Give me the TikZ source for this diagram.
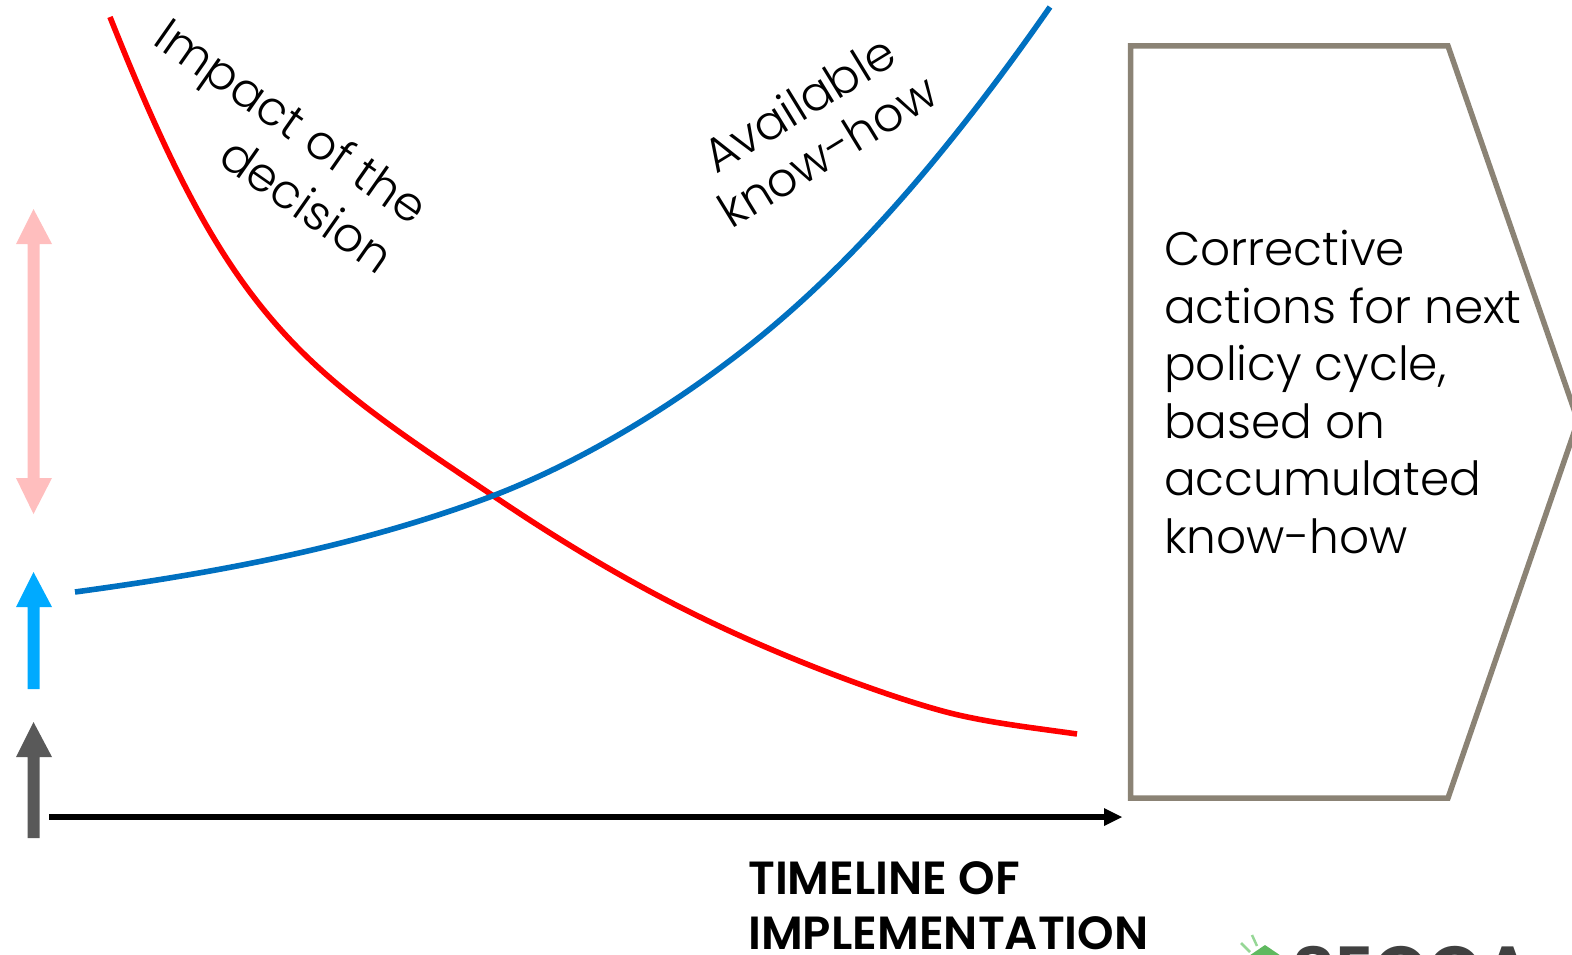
\documentclass[tikz,border=0pt]{standalone}
\usepackage{fontspec}
\setmainfont{Poppins}[UprightFont=* Light,BoldFont=* SemiBold]
\begin{document}
\begin{tikzpicture}[x=1pt,y=-1pt,
  curve/.style={line width=5.6pt,line join=round},
  body/.style={font=\fontsize{47}{57.5}\selectfont,align=left,inner sep=0pt,anchor=north west},
  slanted/.style={font=\fontsize{47.5}{60}\selectfont,inner sep=0pt},
  slantedb/.style={font=\fontsize{47.5}{55}\selectfont,inner sep=0pt},
  axislabel/.style={font=\fontsize{46.5}{55}\selectfont\bfseries,align=left,inner sep=0pt,anchor=north west}]
\definecolor{redc}{RGB}{255,0,0}
\definecolor{bluec}{RGB}{0,112,192}
\definecolor{pinkc}{RGB}{255,190,190}
\definecolor{skyc}{RGB}{0,170,255}
\definecolor{grayc}{RGB}{89,89,89}
\definecolor{boxc}{RGB}{139,131,117}
\definecolor{logoc}{RGB}{64,64,64}
\definecolor{leafc}{RGB}{95,185,95}
\definecolor{rayc}{RGB}{150,215,150}
\useasboundingbox (0,0) rectangle (1572,955);
\clip (0,0) rectangle (1572,955);
% pentagon
\draw[boxc,line width=5.5pt,miter limit=10] (1130.5,46) -- (1448,46) -- (1578,421) -- (1448,798) -- (1130.5,798) -- cycle;
% curves
\draw[redc,curve] (110,17) .. controls (175,180) and (225,275) .. (300,350)
  .. controls (355,405) and (425,450) .. (495,497)
  .. controls (560,541) and (630,583) .. (700,617)
  .. controls (790,661) and (895,699) .. (950,713)
  .. controls (990,723) and (1035,728) .. (1077,734);
\draw[bluec,curve] (75,592) .. controls (200,575) and (350,550) .. (495,495)
  .. controls (570,466) and (650,420) .. (720,368)
  .. controls (800,309) and (905,215) .. (1050,7);
% left arrows
\fill[pinkc] (33.5,209) -- (52,244) -- (39.5,244) -- (39.5,478) -- (52,478) -- (33.5,514) -- (16,478) -- (27.5,478) -- (27.5,244) -- (16,244) -- cycle;
\fill[skyc] (33.5,572) -- (52,607) -- (39.5,607) -- (39.5,689) -- (27.5,689) -- (27.5,607) -- (16,607) -- cycle;
\fill[grayc] (33.5,722) -- (52,757) -- (39.5,757) -- (39.5,838) -- (27.5,838) -- (27.5,757) -- (16,757) -- cycle;
% timeline
\coordinate (tstart) at (49,817);
\coordinate (tend) at (1104,817);
\draw[black,line width=6pt] (tstart) -- (tend);
\fill[black] (1122,817) -- (1104,808) -- (1104,826) -- cycle;
% labels
\node[slanted,align=right,rotate=-35] (impact) at (275,145) {Impact of the\\decision};
\node[slantedb,align=center,rotate=31.5] (knowhow) at (813,127) {Available\\know-how};
\node[body] (corr) at (1164,230) {Corrective\\actions for next\\policy cycle,\\based on\\accumulated\\know-how};
\node[axislabel] (tl) at (748,861) {TIMELINE OF\\IMPLEMENTATION};
% logo, cut off by the lower edge
\fill[leafc] (1265,945) -- (1240,962) -- (1265,985) -- (1290,962) -- cycle;
\draw[rayc,line width=2.5pt] (1252,935) -- (1257,946) (1241,943) -- (1250,952);
\node[inner sep=0pt,anchor=base west,text=logoc,font=\fontsize{71}{71}\selectfont\bfseries] (logo) at (1292,996) {SECCA};
\end{tikzpicture}
\end{document}
